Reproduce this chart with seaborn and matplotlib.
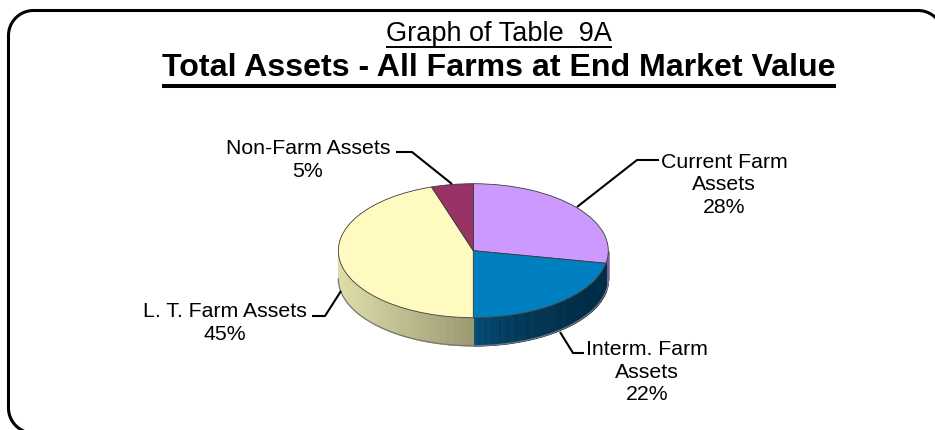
import numpy as np
import matplotlib
matplotlib.use("Agg")
import matplotlib.pyplot as plt
import seaborn as sns

categories = ["Current Farm\nAssets", "Interm. Farm\nAssets", "L. T. Farm Assets", "Non-Farm Assets"]
shares = [28, 22, 45, 5]
top_colors = ["#CC99FF", "#0080C0", "#FFFBC0", "#993366"]
side_rim = ["#7A5C99", "#002E4A", "#DEDDAA", "#5C1F3D"]
side_mid = ["#5E4776", "#004A73", "#99986F", "#4A1931"]
side_curve = [1.0, 2.5, 1.0, 1.0]
title_small = "Graph of Table  9A"
title_big = "Total Assets - All Farms at End Market Value"

W, H = 935, 430
CX, CY, RX, RY, DEPTH = 473.3, 250.7, 135.0, 67.0, 28.0

sns.set_theme(style="white")
plt.rcParams["font.family"] = ["Liberation Sans", "DejaVu Sans"]

fig = plt.figure(figsize=(W / 100, H / 100), dpi=100, facecolor="white")
ax = fig.add_axes([0, 0, 1, 1])

# top face of the pie
wedges, _ = ax.pie(shares, colors=top_colors, startangle=90, counterclock=False,
                   wedgeprops=dict(edgecolor="#3a3a3a", linewidth=0.6, zorder=5))
ax.set_aspect("auto")
ax.set_xlim(-CX / RX, (W - CX) / RX)
ax.set_ylim((CY - H) / RY, CY / RY)
ax.axis("off")

# side wall, from the same shares
d = DEPTH / RY
bounds = 90 - 3.6 * np.concatenate([[0], np.cumsum(shares)])
for i in range(len(shares)):
    hi, lo = bounds[i], bounds[i + 1]
    a = np.append(np.arange(hi, lo, -0.5), lo)
    a = a[np.sin(np.radians(a)) <= 0.001]
    if len(a) < 2:
        continue
    xs = np.cos(np.radians(a))
    ramp = sns.blend_palette([side_rim[i], side_mid[i]], 64)
    for j in range(len(a) - 1):
        t = (1 - abs(xs[j])) ** side_curve[i]
        c = ramp[int(t * 63)]
        ys = np.sin(np.radians(a[j:j + 2]))
        ax.fill_between(xs[j:j + 2], ys - d, ys, color=c, lw=0.5, antialiased=False, zorder=3)
    ax.plot(xs, np.sin(np.radians(a)) - d, color="#777777", lw=0.9, zorder=4)


def to_data(px, py):
    return (px - CX) / RX, (CY - py) / RY


def px_line(points, lw):
    pts = np.array([to_data(*p) for p in points])
    ax.plot(pts[:, 0], pts[:, 1], color="black", lw=lw, zorder=6, solid_capstyle="butt")


px_line([(577, 207), (637, 160), (659, 160)], 1.5)
px_line([(396, 152), (412, 152), (452, 184)], 1.5)
px_line([(312, 316), (325, 316), (341, 291)], 1.5)
px_line([(560, 332), (573, 353), (584, 353)], 1.5)


def label(px, py, s, size=15.3, **kw):
    x, y = to_data(px, py)
    return ax.text(x, y, s, ha="center", va="center", fontsize=size, color="black",
                   linespacing=1.25, zorder=7, **kw)


label(724, 185, categories[0] + f"\n{shares[0]}%")
label(647, 372, categories[1] + f"\n{shares[1]}%")
label(224.5, 323, categories[2] + f"\n{shares[2]}%")
label(308, 160, categories[3] + f"\n{shares[3]}%")


def underlined(py, s, size, weight, upy, lw):
    t = label(499, py, s, size=size, fontweight=weight)
    fig.canvas.draw()
    bb = t.get_window_extent()
    x0, y0 = to_data(bb.x0, upy)
    x1, _ = to_data(bb.x1, upy)
    ax.plot([x0, x1], [y0, y0], color="black", lw=lw, zorder=7, solid_capstyle="butt")


underlined(34, title_small, 19.5, "normal", 47, 1.4)
underlined(68, title_big, 23.1, "bold", 86, 2.9)

# rounded frame: top and left edges; the other two run off the picture
R = 25.0
FL, FT, FR, FB = 8.5, 10.5, 943.0, 433.0
arc = np.radians(np.linspace(0, 90, 30))
frame = [(FL + R - R * np.sin(t), FB - R + R * np.cos(t)) for t in arc]
frame += [(FL + R - R * np.cos(t), FT + R - R * np.sin(t)) for t in arc]
frame += [(FR - R + R * np.sin(t), FT + R - R * np.cos(t)) for t in arc]
px_line(frame, 2.2)

fig.savefig("out.png", dpi=100, facecolor="white")
